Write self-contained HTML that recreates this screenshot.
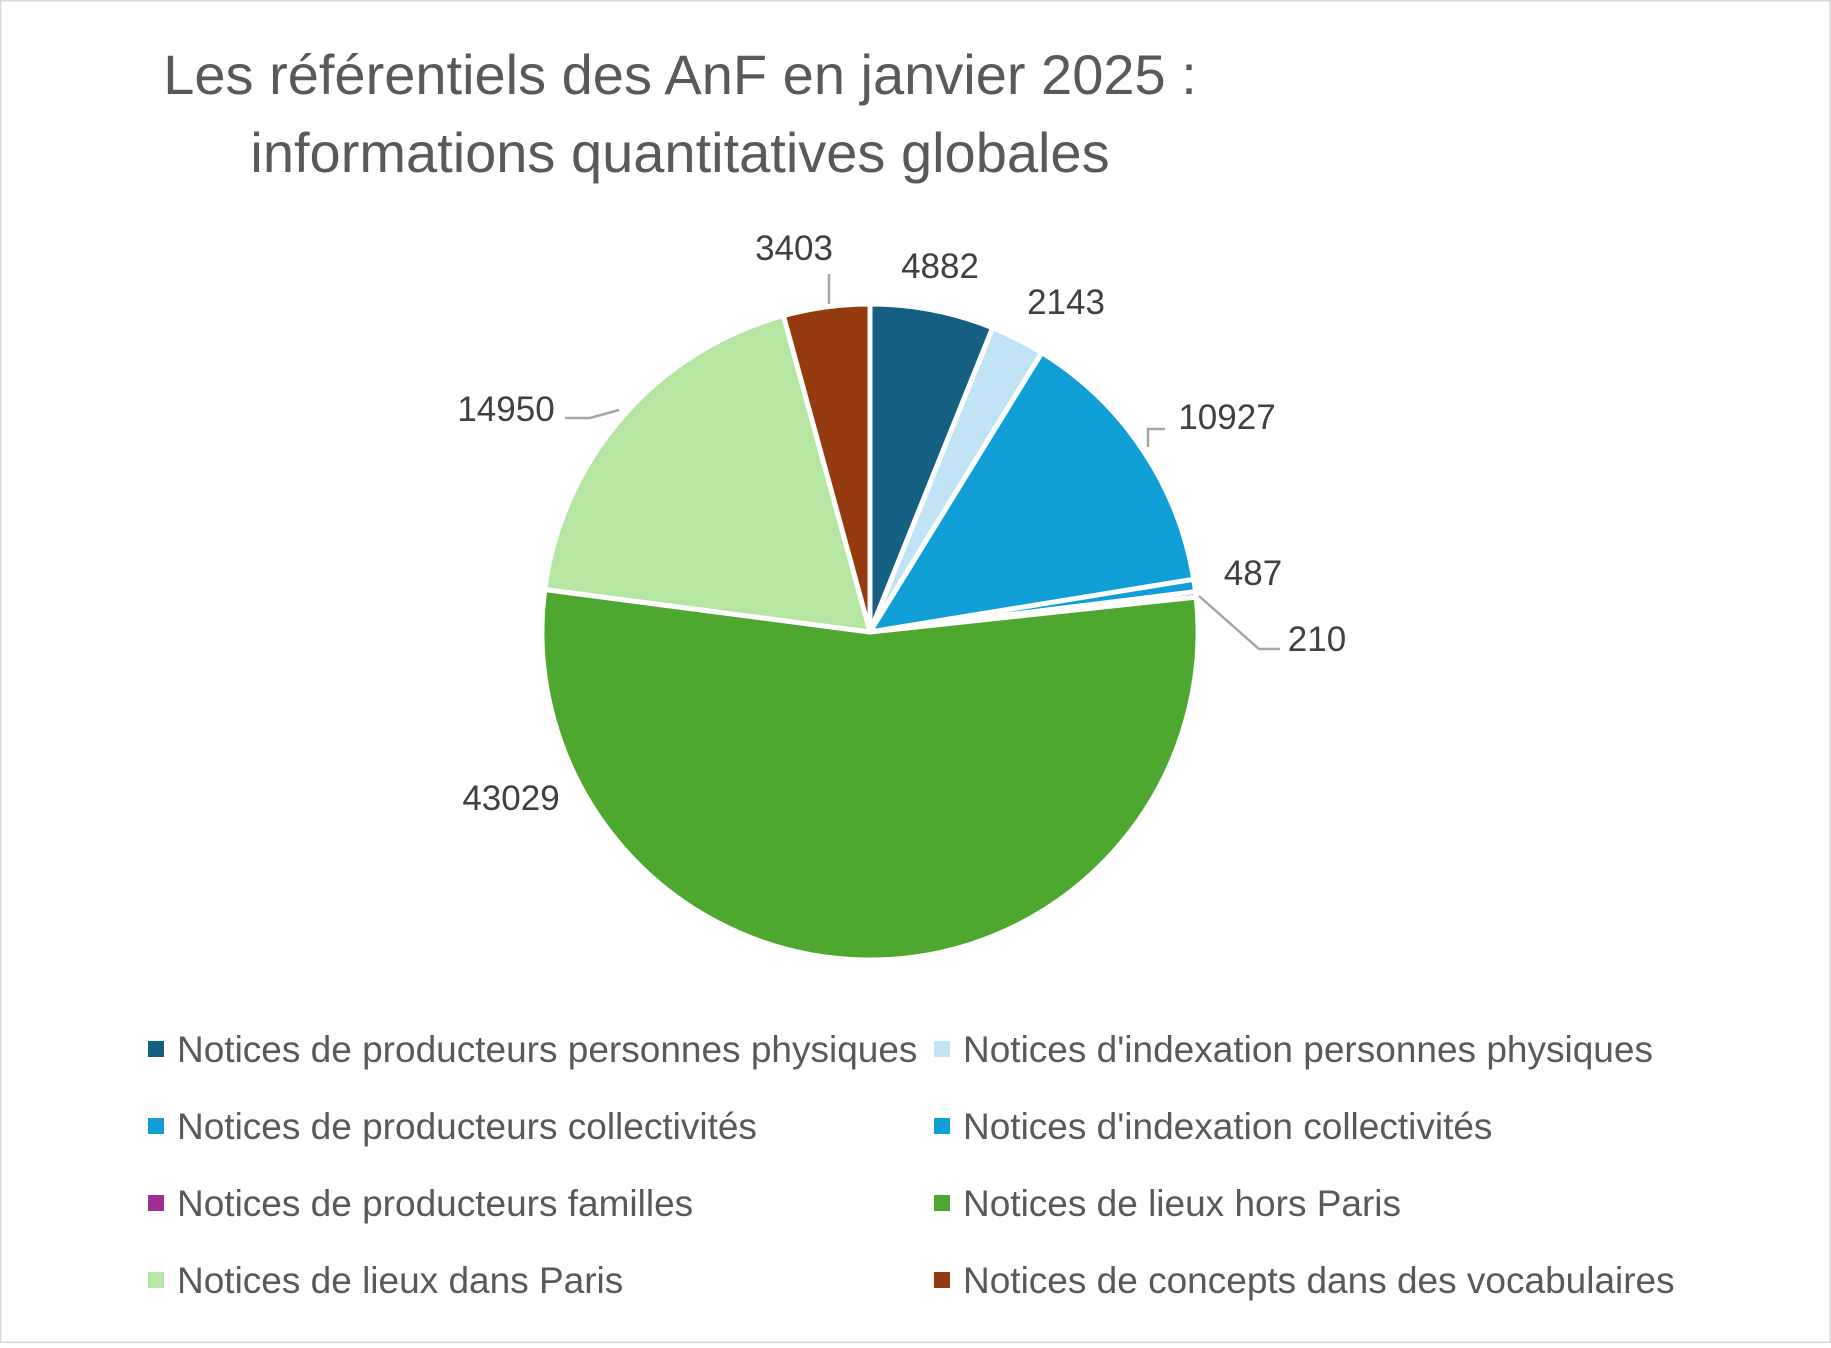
<!DOCTYPE html>
<html><head><meta charset="utf-8"><style>
html,body{margin:0;padding:0;background:#fff}
body{width:1831px;height:1343px;overflow:hidden}
svg text{font-family:"Liberation Sans",sans-serif}
</style></head><body>
<svg id="s" width="1831" height="1343" viewBox="0 0 1831 1343" xmlns="http://www.w3.org/2000/svg">
<rect x="0.5" y="0.5" width="1830" height="1342" fill="#fff" stroke="#d9d9d9" stroke-width="2"/>
<text x="680" y="94" font-size="56" fill="#595959" text-anchor="middle">Les référentiels des AnF en janvier 2025 :</text>
<text x="680" y="172" font-size="56" fill="#595959" text-anchor="middle">informations quantitatives globales</text>
<g id="pie"></g>
<g stroke="#a6a6a6" stroke-width="2.5" fill="none">
<polyline points="829,274 829,304"/>
<polyline points="565,418 590,418 619,410"/>
<polyline points="1165,429 1148,429 1148,447"/>
<polyline points="1199,596 1259,649 1280,649"/>
</g>
<g font-size="35" fill="#404040" text-anchor="middle">
<text x="940" y="278">4882</text>
<text x="1066" y="314">2143</text>
<text x="1227" y="429">10927</text>
<text x="1253" y="585">487</text>
<text x="1317" y="651">210</text>
<text x="511" y="810">43029</text>
<text x="506" y="421">14950</text>
<text x="794" y="260">3403</text>
</g>
<g font-size="37" fill="#595959">
<rect x="148" y="1041" width="16" height="16" fill="#156082"/><text x="177" y="1062">Notices de producteurs personnes physiques</text>
<rect x="934" y="1041" width="16" height="16" fill="#c0e4f5"/><text x="963" y="1062">Notices d'indexation personnes physiques</text>
<rect x="148" y="1118" width="16" height="16" fill="#0f9ed5"/><text x="177" y="1139">Notices de producteurs collectivités</text>
<rect x="934" y="1118" width="16" height="16" fill="#0f9ed5"/><text x="963" y="1139">Notices d'indexation collectivités</text>
<rect x="148" y="1195" width="16" height="16" fill="#a02b93"/><text x="177" y="1216">Notices de producteurs familles</text>
<rect x="934" y="1195" width="16" height="16" fill="#4ea72e"/><text x="963" y="1216">Notices de lieux hors Paris</text>
<rect x="148" y="1272" width="16" height="16" fill="#b5e6a2"/><text x="177" y="1293">Notices de lieux dans Paris</text>
<rect x="934" y="1272" width="16" height="16" fill="#953a0f"/><text x="963" y="1293">Notices de concepts dans des vocabulaires</text>
</g>
</svg>
<script>
var vals=[4882,2143,10927,487,210,43029,14950,3403];
var cols=["#156082","#c0e4f5","#0f9ed5","#0f9ed5","#a02b93","#4ea72e","#b5e6a2","#953a0f"];
var tot=vals.reduce(function(a,b){return a+b},0);
var cx=870,cy=632,r=328,a=-Math.PI/2,g=document.getElementById('pie'),h='';
for(var i=0;i<vals.length;i++){
 var b=a+vals[i]/tot*2*Math.PI;
 var x1=cx+r*Math.cos(a),y1=cy+r*Math.sin(a),x2=cx+r*Math.cos(b),y2=cy+r*Math.sin(b);
 var lg=(b-a)>Math.PI?1:0;
 h+='<path d="M'+cx+','+cy+' L'+x1+','+y1+' A'+r+','+r+' 0 '+lg+' 1 '+x2+','+y2+' Z" fill="'+cols[i]+'" stroke="#fff" stroke-width="5" stroke-linejoin="round"/>';
 a=b;
}
g.innerHTML=h;
</script>
</body></html>
